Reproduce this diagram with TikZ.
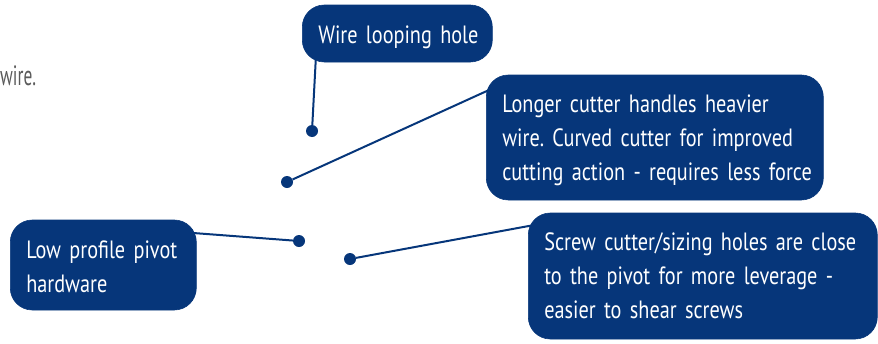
\documentclass[tikz,border=0pt]{standalone}
\usepackage{fontspec}
\setmainfont{PT Sans}[FakeStretch=0.81, WordSpace=0.45]
\newfontfamily\greyfont{PT Sans}[FakeStretch=0.62]
\usetikzlibrary{backgrounds}
\definecolor{navy}{HTML}{06367A}
\definecolor{greytext}{HTML}{5A5A5A}
\tikzset{
  callout/.style={fill=navy, draw=navy, line width=0.6pt, rounded corners=22pt, text=white,
    font=\fontsize{25}{34}\selectfont, align=left, inner xsep=16pt, inner ysep=0pt, anchor=base west},
  pin/.style={circle, fill=navy, inner sep=0pt, minimum size=12pt},
  leader/.style={draw=navy, line width=2pt}
}
\begin{document}
\frenchspacing
\begin{tikzpicture}[x=1pt,y=-1pt]
\useasboundingbox (0,0) rectangle (878,343);
\node[anchor=base west, inner sep=0pt, text=greytext, font=\greyfont\fontsize{28}{30}\selectfont] (wiretext) at (0,85) {wire.};
% callout boxes
\node[callout, text width=158pt, text height=38pt, text depth=19pt] (loop) at (302,43) {\mbox{Wire looping hole}};
\node[callout, text width=305pt, text height=37pt, text depth=88pt] (cutter) at (486,112)
  {\mbox{Longer cutter handles heavier}\\\mbox{wire. Curved cutter for improved}\\\mbox{cutting action - requires less force}};
\node[callout, text width=154pt, text height=38pt, text depth=52pt] (pivot) at (10,258)
  {\mbox{Low profile pivot}\\\mbox{hardware}};
\node[callout, text width=317pt, text height=37pt, text depth=89pt] (screw) at (528,250)
  {\mbox{Screw cutter/sizing holes are close}\\\mbox{to the pivot for more leverage -}\\\mbox{easier to shear screws}};
% pins
\node[pin] (p1) at (312,131) {};
\node[pin] (p2) at (287,182) {};
\node[pin] (p3) at (299,241) {};
\node[pin] (p4) at (350,259) {};
% hidden ends of leaders under boxes
\coordinate (e1) at (316,55);
\coordinate (e2) at (500,85);
\coordinate (e3) at (180,232);
\coordinate (e4) at (545,223);
\begin{scope}[on background layer]
\draw[leader] (p1) -- (e1);
\draw[leader] (p2) -- (e2);
\draw[leader] (p3) -- (e3);
\draw[leader] (p4) -- (e4);
\end{scope}
\end{tikzpicture}
\end{document}
